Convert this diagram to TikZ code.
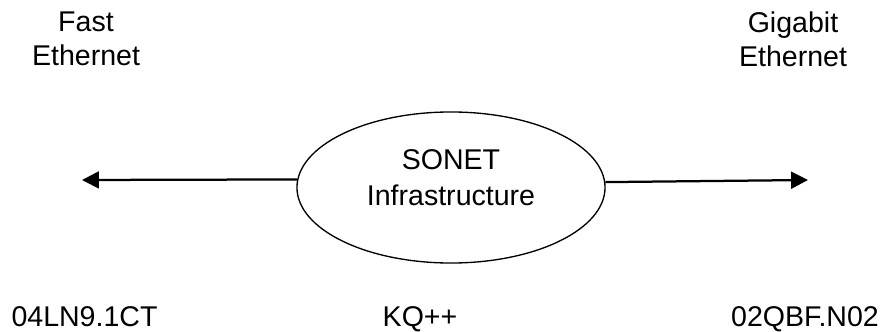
\documentclass[tikz,border=0pt]{standalone}
\usepackage{fontspec}
\setmainfont{Liberation Sans}
\usepackage{tikz}
\usetikzlibrary{shapes,arrows.meta,positioning,calc}

\begin{document}
\begin{tikzpicture}[x=0.025cm, y=0.025cm,
    label/.style={font=\fontsize{20.3}{24.5}\selectfont, inner sep=0pt, align=center},
    cloud/.style={draw, ellipse, line width=0.95pt, minimum width=7.7cm, minimum height=3.775cm, inner sep=0pt, align=center, font=\fontsize{20.3}{24.5}\selectfont, text depth=0.49cm},
    link/.style={line width=1.6pt, -{Triangle[length=12pt,width=12pt]}}]
    \useasboundingbox (0,0) rectangle (884,331);

    % Ends
    \node[label] (fast) at (86, 292) {Fast\\Ethernet};
    \node[label] (giga) at (793, 291.5) {Gigabit\\Ethernet};

    % Core
    \node[cloud] (sonet) at (451, 143.5) {SONET\\[1.1pt]Infrastructure};

    % Links
    \coordinate (fastend) at (82, 151);
    \coordinate (gigend) at (808, 151);
    \draw[link] (sonet.177.2) -- (fastend);
    \draw[link] (sonet.2.8) -- (gigend);

    % Codes
    \node[label, anchor=base] (codeleft) at (84.5, 5) {04LN9.1CT};
    \node[label, anchor=base] (codemid) at (420, 5) {KQ++};
    \node[label, anchor=base] (coderight) at (805, 5) {02QBF.N02};
\end{tikzpicture}
\end{document}
